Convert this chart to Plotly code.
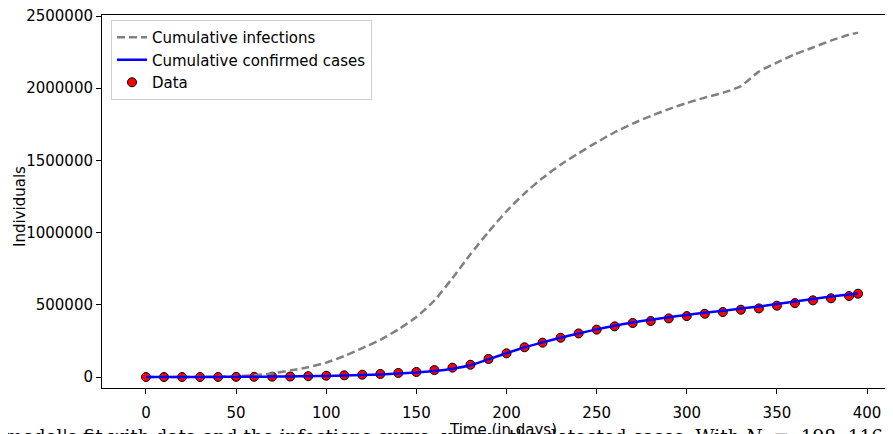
import plotly.graph_objects as go

# ---- data ----
days = [0, 10, 20, 30, 40, 50, 60, 70, 80, 90, 100, 110, 120, 130, 140, 150,
        160, 170, 180, 190, 200, 210, 220, 230, 240, 250, 260, 270, 280, 290,
        300, 310, 320, 330, 340, 350, 360, 370, 380, 390, 395]

cumulative_infections = [0, 0, 500, 1000, 2000, 5000, 12000, 25000, 45000, 68000,
                         100000, 145000, 200000, 258000, 330000, 415000, 530000,
                         685000, 850000, 1005000, 1148000, 1272000, 1378000,
                         1470000, 1550000, 1625000, 1695000, 1755000, 1808000,
                         1855000, 1898000, 1935000, 1968000, 2015000, 2115000,
                         2178000, 2235000, 2282000, 2330000, 2370000, 2385000]

cumulative_confirmed = [0, 0, 300, 600, 1000, 1500, 2200, 3000, 4000, 5500, 7500,
                        10000, 13500, 18000, 24000, 31000, 42000, 58000, 82000,
                        122000, 165000, 205000, 240000, 272000, 302000, 330000,
                        355000, 378000, 397000, 414000, 430000, 445000, 459000,
                        474000, 488000, 505000, 523000, 541000, 557000, 571000,
                        578000]

data_cases = [0, 0, 0, 0, 500, 1000, 1500, 2500, 3500, 6000, 9000, 11500, 16000,
              21000, 28000, 35000, 48000, 65000, 85000, 125000, 164000, 206000,
              238000, 272000, 302000, 328000, 351000, 374000, 388000, 406000,
              422000, 438000, 450000, 466000, 475000, 494000, 512000, 531000,
              545000, 561000, 577000]

x_ticks = [0, 50, 100, 150, 200, 250, 300, 350, 400]
y_ticks = [0, 500000, 1000000, 1500000, 2000000, 2500000]

caption = ("The model's fit with data and the infections curve, versus the detected "
           "cases. With <i>N</i>&nbsp; = &nbsp;198&nbsp; 116")

FONT = "DejaVu Sans"
SERIF = "DejaVu Serif"

fig = go.Figure()

fig.add_trace(go.Scatter(
    x=days, y=data_cases, mode="markers", name="Data", legendrank=3,
    marker=dict(color="red", size=9, line=dict(color="black", width=1)),
))
fig.add_trace(go.Scatter(
    x=days, y=cumulative_infections, mode="lines", name="Cumulative infections",
    legendrank=1, line=dict(color="gray", width=2.5, dash="8px,4px",
                            shape="spline", smoothing=0.6),
))
fig.add_trace(go.Scatter(
    x=days, y=cumulative_confirmed, mode="lines", name="Cumulative confirmed cases",
    legendrank=2, line=dict(color="blue", width=2.5, shape="spline", smoothing=0.4),
))

# The page body has an 8px margin, so the figure starts at (8, 8) in the window.
OFF = 8
W, H = 893 - OFF, 434 - OFF
ML, MT, MB, MR = 102 - OFF, 15 - OFF, 434 - 388, 0
plot_h = H - MT - MB
plot_w = W - ML - MR

def px_to_paper_y(py):          # py: window pixel
    return (H - MB - (py - OFF)) / plot_h

def px_to_paper_x(px):          # px: window pixel
    return ((px - OFF) - ML) / plot_w

fig.update_layout(
    width=W, height=H,
    margin=dict(l=ML, r=MR, t=MT, b=MB, pad=0, autoexpand=False),
    paper_bgcolor="white", plot_bgcolor="white",
    font=dict(family=FONT, size=15, color="black"),
    showlegend=True,
    legend=dict(
        x=px_to_paper_x(111), y=px_to_paper_y(20), xanchor="left", yanchor="top",
        bgcolor="white", bordercolor="#d0d0d0", borderwidth=1,
        font=dict(family=FONT, size=15, color="black"),
        tracegroupgap=0, itemwidth=30,
    ),
    xaxis=dict(
        range=[-24.4, 414.4], tickvals=x_ticks, showgrid=False, zeroline=False,
        showline=True, linecolor="black", linewidth=1, mirror=True,
        ticks="outside", ticklen=5, tickcolor="black", tickwidth=1,
        ticklabelstandoff=6, automargin=False,
        tickfont=dict(family=FONT, size=15, color="black"),
    ),
    yaxis=dict(
        range=[-76000, 2507000], tickvals=y_ticks, tickformat="d",
        showgrid=False, zeroline=False, automargin=False,
        ticklabeloverflow="allow",
        showline=True, linecolor="black", linewidth=1, mirror=False,
        ticks="outside", ticklen=5, tickcolor="black", tickwidth=1,
        tickfont=dict(family=FONT, size=15, color="black"),
    ),
    annotations=[
        dict(text="Individuals", xref="paper", yref="paper", textangle=-90,
             x=px_to_paper_x(20), y=px_to_paper_y(207), xanchor="center",
             yanchor="middle", showarrow=False,
             font=dict(family=FONT, size=15, color="black")),
        dict(text="Time (in days)", xref="paper", yref="paper",
             x=px_to_paper_x(503), y=px_to_paper_y(419), xanchor="center",
             yanchor="top", showarrow=False,
             font=dict(family=FONT, size=15, color="black")),
        dict(text=caption, xref="paper", yref="paper",
             x=px_to_paper_x(-38), y=px_to_paper_y(423.5), xanchor="left",
             yanchor="top", showarrow=False,
             font=dict(family=SERIF, size=18.5, color="black")),
    ],
)

fig.write_html("out.html")
